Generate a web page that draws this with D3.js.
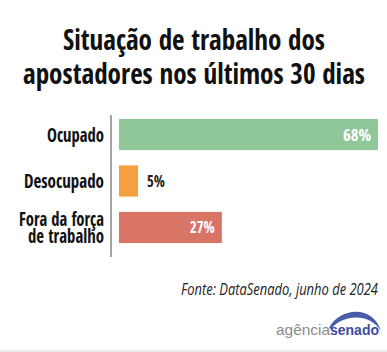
<!DOCTYPE html>
<html><head><meta charset="utf-8">
<script src="https://cdn.jsdelivr.net/npm/d3@7"></script>
<style>body{margin:0;background:#fff}</style></head>
<body><svg id="c" width="387" height="352"></svg>
<script>
const categories=[["Ocupado"],["Desocupado"],["Fora da força","de trabalho"]];
const values=[68,5,27];
const colors=["#8fc799","#f4a03f","#d97566"];
const valueLabels=["68%","5%","27%"];
const titleLines=["Situação de trabalho dos","apostadores nos últimos 30 dias"];
const source="Fonte: DataSenado, junho de 2024";

const FONT="'Open Sans Condensed','Roboto Condensed','DejaVu Sans Condensed',sans-serif";
const svg=d3.select("#c");
function squeeze(sel,w){sel.attr("textLength",w).attr("lengthAdjust","spacingAndGlyphs");return sel;}

// title
const titleW=[262,342];
titleLines.forEach((t,i)=>{
  const s=svg.append("text").attr("x",194).attr("y",50+i*34).attr("text-anchor","middle")
    .attr("font-family",FONT).attr("font-weight","bold").attr("font-size",29).attr("fill","#111").text(t);
  squeeze(s,titleW[i]);
});

const x=d3.scaleLinear().domain([0,68]).range([119,378]);
const y=d3.scaleBand().domain(d3.range(values.length)).range([105,257]).paddingInner(0.33).paddingOuter(0.3);

svg.append("line").attr("x1",111).attr("x2",111).attr("y1",115).attr("y2",257).attr("stroke","#8c8c8c").attr("stroke-width",1.6);

svg.selectAll("rect.bar").data(values).join("rect").attr("class","bar")
  .attr("x",x(0)).attr("y",(d,i)=>y(i)).attr("width",d=>x(d)-x(0)).attr("height",y.bandwidth())
  .attr("fill",(d,i)=>colors[i]);

const labW=[[57],[80],[85,76]];
categories.forEach((lines,i)=>{
  const cy=y(i)+y.bandwidth()/2;
  const n=lines.length;
  lines.forEach((l,j)=>{
    const t=svg.append("text").attr("text-anchor","end").attr("font-family",FONT).attr("font-weight","bold")
      .attr("font-size",19).attr("fill","#111").attr("x",104).attr("y",cy+7+(j-(n-1)/2)*17.5).text(l);
    squeeze(t,labW[i][j]);
  });
});

const valW=[28,18,25];
values.forEach((v,i)=>{
  const cy=y(i)+y.bandwidth()/2;
  const inside=v>10;
  const s=svg.append("text").attr("font-family",FONT).attr("font-weight","bold").attr("font-size",16.5)
    .attr("x",inside?x(v)-7:x(v)+9).attr("y",cy+6).attr("text-anchor",inside?"end":"start")
    .attr("fill",inside?"#fff":"#222").text(valueLabels[i]);
  squeeze(s,valW[i]);
});

const src=svg.append("text").attr("x",378).attr("y",295).attr("text-anchor","end").attr("font-family","'Open Sans',sans-serif")
  .attr("font-style","italic").attr("font-weight",400).attr("font-size",16.5).attr("fill","#222").text(source);
squeeze(src,197);

// logo
svg.append("path").attr("d","M329,328 C338,309 372,303 381,331 C370,313 343,314 331,329 Z").attr("fill","#4a5ca8");
const a=svg.append("text").attr("x",276).attr("y",335).attr("font-family","'Liberation Sans',Arial,sans-serif")
  .attr("font-size",15).attr("fill","#8a8a8a").text("agência");
squeeze(a,54);
const b=svg.append("text").attr("x",330).attr("y",335).attr("font-family","'Liberation Sans',Arial,sans-serif")
  .attr("font-weight","bold").attr("font-size",15).attr("fill","#3d4c9e").text("senado");
squeeze(b,49);
svg.append("rect").attr("x",0).attr("y",350).attr("width",387).attr("height",2).attr("fill","#ececec");
</script></body></html>
